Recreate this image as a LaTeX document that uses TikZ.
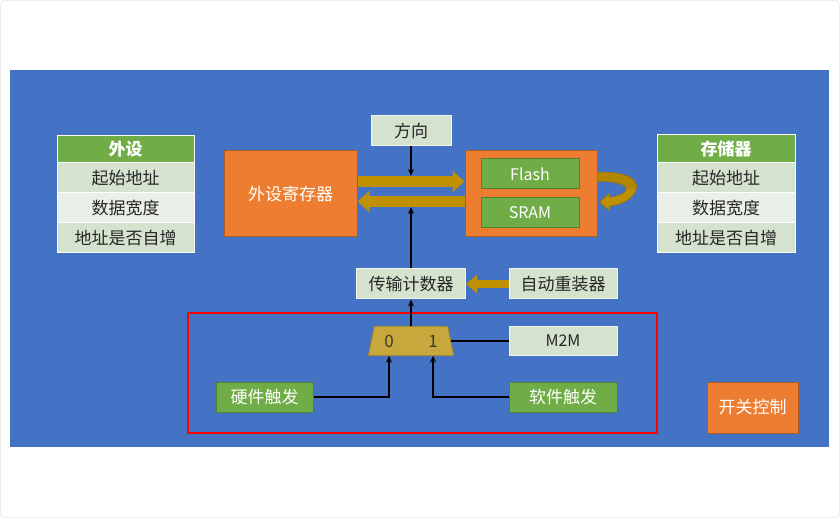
\documentclass[tikz,border=0pt]{standalone}
\usepackage{fontspec}
\setmainfont{Noto Sans CJK SC}
\usetikzlibrary{arrows.meta,calc}
\definecolor{bgblue}{HTML}{4472C4}
\definecolor{orng}{HTML}{ED7D31}
\definecolor{orngdk}{HTML}{AE5A21}
\definecolor{grn}{HTML}{70AD47}
\definecolor{grndk}{HTML}{507E32}
\definecolor{cellA}{HTML}{D5E2CE}
\definecolor{cellB}{HTML}{EAEFE7}
\definecolor{gold}{HTML}{BF9000}
\definecolor{golddk}{HTML}{9A7400}
\definecolor{muxc}{HTML}{C8A83C}
\definecolor{muxdk}{HTML}{9C8228}
\definecolor{txt}{HTML}{262626}
\definecolor{frame}{HTML}{EDEDED}
\begin{document}
\begin{tikzpicture}[x=1pt,y=-1pt,
  font=\fontsize{17}{20}\selectfont,
  cell/.style={draw=white, line width=1pt, inner sep=0pt, text=txt},
  hdr/.style={cell, fill=grn, text=white, font=\fontsize{17}{20}\selectfont\bfseries},
  lbox/.style={draw=white!70!cellA, line width=1pt, fill=cellA, inner sep=0pt, text=txt},
  obox/.style={draw=orngdk, line width=1pt, fill=orng, inner sep=0pt, text=white},
  gbox/.style={draw=grndk, line width=1pt, fill=grn, inner sep=0pt, text=white},
  goldarr/.style={draw=gold, line width=11pt, -{Triangle[length=12pt,width=21pt]}},
  goldarrs/.style={draw=gold, line width=8pt, -{Triangle[length=11pt,width=18pt]}},
  blk/.style={draw=black, line width=2pt, -{Stealth[length=7pt,width=6pt]}},
  blkline/.style={draw=black, line width=2pt}
]
\useasboundingbox (0,0) rectangle (840,518);
\fill[white] (0,0) rectangle (840,518);
\draw[frame, line width=1pt, rounded corners=4pt] (0.5,0.5) rectangle (839.5,517.5);
% background
\fill[bgblue] (10,70) rectangle (829,447);

% left table
\node[hdr, minimum width=137pt, minimum height=27pt] (pH) at (125.5,149.5) {外设};
\node[cell, fill=cellA, minimum width=137pt, minimum height=30pt] (p1) at (125.5,178) {起始地址};
\node[cell, fill=cellB, minimum width=137pt, minimum height=30pt] (p2) at (125.5,208) {数据宽度};
\node[cell, fill=cellA, minimum width=137pt, minimum height=29.5pt] (p3) at (125.5,237.75) {地址是否自增};

% right table
\node[hdr, minimum width=138pt, minimum height=28pt] (mH) at (726,149) {存储器};
\node[cell, fill=cellA, minimum width=138pt, minimum height=30pt] (m1) at (726,178) {起始地址};
\node[cell, fill=cellB, minimum width=138pt, minimum height=30pt] (m2) at (726,208) {数据宽度};
\node[cell, fill=cellA, minimum width=138pt, minimum height=29.5pt] (m3) at (726,237.75) {地址是否自增};

% peripheral register
\node[obox, minimum width=133pt, minimum height=86.5pt] (reg) at (290.5,193.75) {外设寄存器};
% memory
\node[obox, minimum width=132pt, minimum height=86.5pt] (mem) at (531,193.75) {};
\node[gbox, minimum width=98pt, minimum height=30pt, font=\fontsize{16}{19}\selectfont] (flash) at (530,174) {Flash};
\node[gbox, minimum width=98pt, minimum height=30pt, font=\fontsize{16}{19}\selectfont] (sram) at (530,213) {SRAM};

% direction
\node[lbox, minimum width=80pt, minimum height=30pt] (dir) at (411,131) {方向};
% counter and reload
\node[lbox, minimum width=109pt, minimum height=30pt] (cnt) at (411,284) {传输计数器};
\node[lbox, minimum width=108pt, minimum height=30pt] (auto) at (563,284) {自动重装器};
\node[lbox, minimum width=108pt, minimum height=29pt, font=\fontsize{16}{19}\selectfont] (m2m) at (563,341) {M2M};

% triggers
\node[gbox, minimum width=97pt, minimum height=30pt] (hw) at (264.5,397) {硬件触发};
\node[gbox, minimum width=108pt, minimum height=30pt] (sw) at (563,397) {软件触发};
% switch control
\node[obox, minimum width=91pt, minimum height=51pt] (swc) at (752.5,407.5) {开关控制};

% red frame
\draw[red, line width=2pt] (188,313.5) rectangle (656.5,432.5);

% mux
\node[minimum width=85pt, minimum height=29pt, inner sep=0pt] (mux) at (411,341) {};
\filldraw[fill=muxc, draw=muxdk, line width=0.8pt]
  (mux.south west) -- (mux.south east) -- ($(mux.north east)+(-6,0)$) -- ($(mux.north west)+(6,0)$) -- cycle;
\node[text=txt!85!muxc, font=\fontsize{17}{20}\selectfont, inner sep=0pt] (n0) at (389,341) {0};
\node[text=txt!85!muxc, font=\fontsize{17}{20}\selectfont, inner sep=0pt] (n1) at (433,341) {1};

% gold data arrows
\coordinate (a1) at ($(reg.east)+(0,-12.25)$);
\coordinate (a2) at ($(mem.west)+(0,7.75)$);
\draw[goldarr] (a1) -- (a1 -| mem.west);
\draw[goldarr] (a2) -- (a2 -| reg.east);
\draw[goldarrs] (auto.west) -- (cnt.east);

% self loop arrow on memory
\coordinate (lp) at (mem.east);
\filldraw[fill=gold, draw=golddk, line width=0.6pt]
  ($(lp)+(0,-21.5)$) .. controls ($(lp)+(28,-22.5)$) and ($(lp)+(40,-15)$) .. ($(lp)+(39,-6)$)
  .. controls ($(lp)+(38,3)$) and ($(lp)+(26,11)$) .. ($(lp)+(12,12.5)$)
  -- ($(lp)+(12,17)$) -- ($(lp)+(2,8.5)$) -- ($(lp)+(12,-0.5)$) -- ($(lp)+(12,3.5)$)
  .. controls ($(lp)+(21,2.5)$) and ($(lp)+(29,-1)$) .. ($(lp)+(29,-5)$)
  .. controls ($(lp)+(29,-9)$) and ($(lp)+(18,-12.5)$) .. ($(lp)+(0,-12.5)$) -- cycle;
\fill[golddk, opacity=0.35]
  ($(lp)+(0,-21.5)$) .. controls ($(lp)+(28,-22.5)$) and ($(lp)+(40,-15)$) .. ($(lp)+(39,-6)$)
  -- ($(lp)+(29,-5)$)
  .. controls ($(lp)+(29,-9)$) and ($(lp)+(18,-12.5)$) .. ($(lp)+(0,-12.5)$) -- cycle;

% black control arrows
\coordinate (dtop) at ($(a1)+(0,-5.5)$);
\coordinate (cbot) at ($(a2)+(0,5.5)$);
\draw[blk] (dir.south) -- (dir.south |- dtop);
\draw[blk] (cnt.north) -- (cnt.north |- cbot);
\draw[blk] (mux.north) -- (cnt.south);
\draw[blkline] ($(mux.east)+(-3,0)$) -- (m2m.west);
\draw[blk] (hw.east) -| (n0 |- mux.south);
\draw[blk] (sw.west) -| (n1 |- mux.south);
\end{tikzpicture}
\end{document}
